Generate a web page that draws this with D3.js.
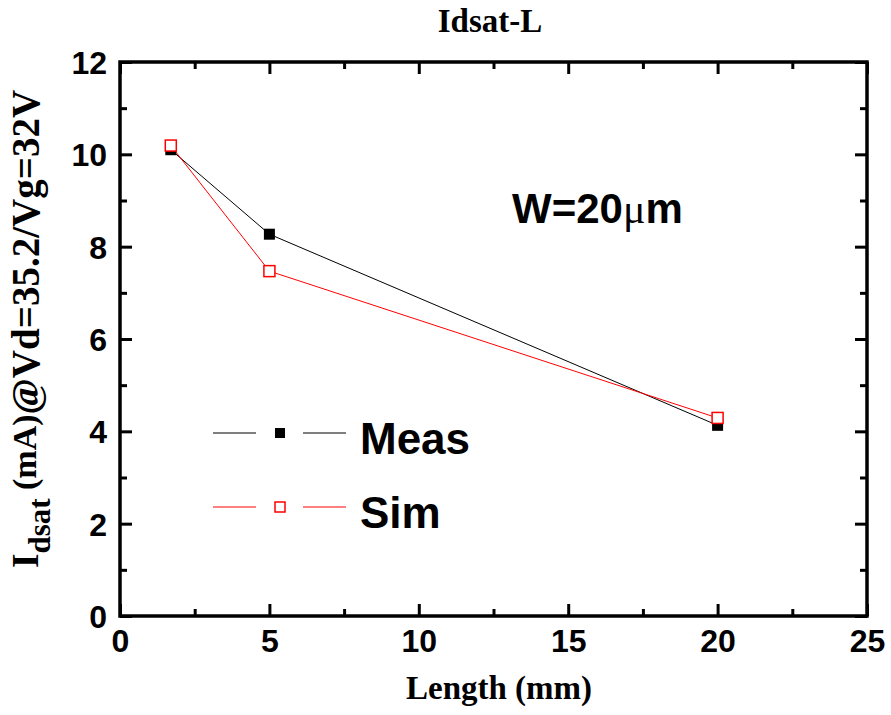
<!DOCTYPE html>
<html>
<head>
<meta charset="utf-8">
<script src="https://cdn.jsdelivr.net/npm/d3@7"></script>
<style>
  html, body { margin: 0; padding: 0; background: #fff; }
  svg { display: block; }
</style>
</head>
<body>
<svg id="chart" width="891" height="715"></svg>
<script>
// Saturation current versus channel length, measured and simulated
const lengths = [1.7, 5, 20];
const measValues = [10.1, 8.27, 4.13];
const simValues = [10.19, 7.47, 4.29];
const seriesNames = ["Meas", "Sim"];
const xTickValues = [0, 5, 10, 15, 20, 25];
const yTickValues = [0, 2, 4, 6, 8, 10, 12];

const svg = d3.select("#chart");
const margin = { left: 120, right: 24, top: 62, bottom: 99 };
const W = 891, H = 715;

const x = d3.scaleLinear().domain([0, 25]).range([margin.left, W - margin.right]);
const y = d3.scaleLinear().domain([0, 12]).range([H - margin.bottom, margin.top]);

const sans = "'Liberation Sans', Arial, sans-serif";
const serif = "'Liberation Serif', 'Times New Roman', serif";

// minor ticks halfway between majors
const xMinor = d3.range(2.5, 25, 5);
const yMinor = d3.range(1, 12, 2);

const majorLen = 12, minorLen = 7;

function styleAxis(g) {
  g.select(".domain").remove();
  g.selectAll(".tick line").attr("stroke", "#000").attr("stroke-width", 3);
}

// bottom axis with labels
const gx = svg.append("g").attr("transform", `translate(0,${y(0)})`)
  .call(d3.axisBottom(x).tickValues(xTickValues).tickSize(-majorLen).tickPadding(13).tickFormat(d3.format("d")));
styleAxis(gx);
gx.selectAll("text").attr("font-family", sans).attr("font-weight", "bold").attr("font-size", 32).attr("fill", "#000")
  .attr("dy", "0.72em");
svg.append("g").attr("transform", `translate(0,${y(0)})`)
  .call(d3.axisBottom(x).tickValues(xMinor).tickSize(-minorLen).tickFormat(""))
  .call(styleAxis);

// top axis (ticks only)
svg.append("g").attr("transform", `translate(0,${y(12)})`)
  .call(d3.axisTop(x).tickValues(xTickValues).tickSize(-majorLen).tickFormat(""))
  .call(styleAxis);
svg.append("g").attr("transform", `translate(0,${y(12)})`)
  .call(d3.axisTop(x).tickValues(xMinor).tickSize(-minorLen).tickFormat(""))
  .call(styleAxis);

// left axis with labels
const gy = svg.append("g").attr("transform", `translate(${x(0)},0)`)
  .call(d3.axisLeft(y).tickValues(yTickValues).tickSize(-majorLen).tickPadding(13).tickFormat(d3.format("d")));
styleAxis(gy);
gy.selectAll("text").attr("font-family", sans).attr("font-weight", "bold").attr("font-size", 32).attr("fill", "#000")
  .attr("dy", "0.36em");
svg.append("g").attr("transform", `translate(${x(0)},0)`)
  .call(d3.axisLeft(y).tickValues(yMinor).tickSize(-minorLen).tickFormat(""))
  .call(styleAxis);

// right axis (ticks only)
svg.append("g").attr("transform", `translate(${x(25)},0)`)
  .call(d3.axisRight(y).tickValues(yTickValues).tickSize(-majorLen).tickFormat(""))
  .call(styleAxis);
svg.append("g").attr("transform", `translate(${x(25)},0)`)
  .call(d3.axisRight(y).tickValues(yMinor).tickSize(-minorLen).tickFormat(""))
  .call(styleAxis);

// plot frame
svg.append("rect")
  .attr("x", x(0)).attr("y", y(12))
  .attr("width", x(25) - x(0)).attr("height", y(0) - y(12))
  .attr("fill", "none").attr("stroke", "#000").attr("stroke-width", 3.5)
  .attr("stroke-linecap", "square");

// series
const series = [
  { name: seriesNames[0], values: measValues, color: "#000", filled: true },
  { name: seriesNames[1], values: simValues, color: "#ff0000", filled: false }
];
const line = d3.line().x(d => x(d[0])).y(d => y(d[1]));
const markerSize = 11;

series.forEach(s => {
  const pts = lengths.map((L, i) => [L, s.values[i]]);
  svg.append("path").datum(pts)
    .attr("d", line).attr("fill", "none").attr("stroke", s.color).attr("stroke-width", 1);
});
series.forEach(s => {
  const pts = lengths.map((L, i) => [L, s.values[i]]);
  svg.append("g").selectAll("rect").data(pts).join("rect")
    .attr("x", d => x(d[0]) - markerSize / 2)
    .attr("y", d => y(d[1]) - markerSize / 2)
    .attr("width", markerSize).attr("height", markerSize)
    .attr("fill", s.filled ? s.color : "#fff")
    .attr("stroke", s.color).attr("stroke-width", s.filled ? 0 : 1.5);
});

// legend
const legendMarker = 10;
const legend = svg.append("g");
series.forEach((s, i) => {
  const ly = 433 + i * 74;
  const lg = legend.append("g");
  lg.append("line").attr("x1", 213).attr("x2", 256).attr("y1", ly).attr("y2", ly)
    .attr("stroke", s.color).attr("stroke-width", 1);
  lg.append("line").attr("x1", 303).attr("x2", 346).attr("y1", ly).attr("y2", ly)
    .attr("stroke", s.color).attr("stroke-width", 1);
  lg.append("rect").attr("x", 280 - legendMarker / 2).attr("y", ly - legendMarker / 2)
    .attr("width", legendMarker).attr("height", legendMarker)
    .attr("fill", s.filled ? s.color : "#fff")
    .attr("stroke", s.color).attr("stroke-width", s.filled ? 0 : 1.5);
  lg.append("text").attr("x", 360).attr("y", ly + 21)
    .attr("font-family", sans).attr("font-weight", "bold").attr("font-size", 44)
    .attr("fill", "#000").text(s.name);
});

// annotation
const ann = svg.append("text").attr("x", 512).attr("y", 223)
  .attr("font-family", sans).attr("font-weight", "bold").attr("font-size", 42).attr("fill", "#000");
ann.append("tspan").text("W=20");
ann.append("tspan").attr("font-family", serif).attr("font-weight", "normal").text("μ");
ann.append("tspan").text("m");

// title
svg.append("text").attr("x", 490).attr("y", 32).attr("text-anchor", "middle")
  .attr("font-family", serif).attr("font-weight", "bold").attr("font-size", 33)
  .attr("fill", "#000").text("Idsat-L");

// x axis title
svg.append("text").attr("x", 499).attr("y", 699).attr("text-anchor", "middle")
  .attr("font-family", serif).attr("font-weight", "bold").attr("font-size", 33)
  .attr("fill", "#000").text("Length (mm)");

// y axis title
const yt = svg.append("text")
  .attr("transform", "translate(38,568) rotate(-90)")
  .attr("font-family", serif).attr("font-weight", "bold").attr("fill", "#000");
yt.append("tspan").attr("font-size", 37).text("I");
yt.append("tspan").attr("font-size", 31).attr("dy", 12).text("dsat");
yt.append("tspan").attr("font-size", 34).attr("dy", -14).text(" (mA)");
yt.append("tspan").attr("font-size", 39).attr("dy", 3).text("@Vd=35.2/Vg=32V");
</script>
</body>
</html>
